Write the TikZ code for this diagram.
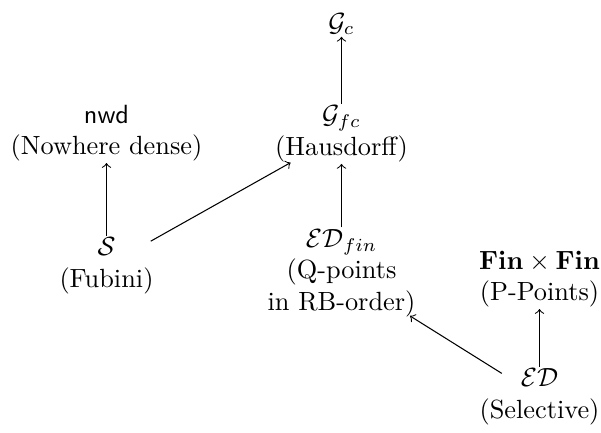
\documentclass[tikz,border=0pt]{standalone}
\begin{document}
\begin{tikzpicture}[x=0.38pt,y=-0.38pt,
  lbl/.style={align=center,inner sep=0.5pt},
  arr/.style={->,line width=0.4pt}]
\useasboundingbox (0,0) rectangle (601,432);
\node[lbl] (gc) at (341.5,24) {$\mathcal{G}_c$};
\node[lbl] (gfc) at (341.5,134) {$\mathcal{G}_{fc}$\\(Hausdorff)};
\node[lbl] (nwd) at (106.5,133) {\textsf{nwd}\\(Nowhere dense)};
\node[lbl] (s) at (106.5,266) {$\mathcal{S}$\\(Fubini)};
\node[lbl] (edfin) at (341.5,273) {$\mathcal{ED}_{fin}$\\(Q-points\\in RB-order)};
\node[lbl] (fin) at (539.5,279) {$\mathbf{Fin}\times\mathbf{Fin}$\\(P-Points)};
\node[lbl] (ed) at (539.5,397) {$\mathcal{ED}$\\(Selective)};
\draw[arr] (gfc) -- (gc);
\draw[arr] (s) -- (nwd);
\draw[arr,shorten <=-2pt,shorten >=-1pt] (s) -- (gfc);
\draw[arr] (edfin) -- (gfc);
\draw[arr] (ed) -- (fin);
\draw[arr,shorten <=-4.5pt,shorten >=-2pt] (ed) -- (edfin);
\end{tikzpicture}
\end{document}
